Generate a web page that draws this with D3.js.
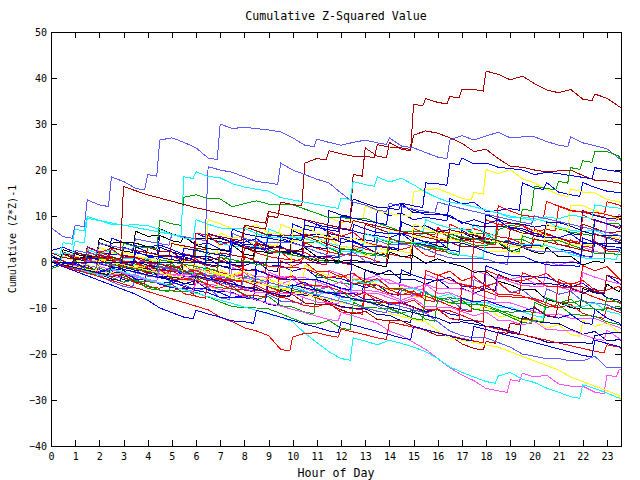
<!DOCTYPE html>
<html><head><meta charset="utf-8">
<script src="https://cdn.jsdelivr.net/npm/d3@7"></script>
<style>body{margin:0;background:#fff}svg{display:block}</style>
</head><body>
<svg id="c" width="640" height="480"></svg>
<script>
const hours = [0,0.5,1,1.5,2,2.5,3,3.5,4,4.5,5,5.5,6,6.5,7,7.5,8,8.5,9,9.5,10,10.5,11,11.5,12,12.5,13,13.5,14,14.5,15,15.5,16,16.5,17,17.5,18,18.5,19,19.5,20,20.5,21,21.5,22,22.5,23,23.5,23.58];
const xTicks = [0,1,2,3,4,5,6,7,8,9,10,11,12,13,14,15,16,17,18,19,20,21,22,23];
const yTicks = [-40,-30,-20,-10,0,10,20,30,40,50];
const titleText = "Cumulative Z-Squared Value";
const xTitle = "Hour of Day";
const yTitle = "Cumulative (Z*Z)-1";

// bundle series
const b01 = [0,-0.3,-1.1,0.3,1.2,0.9,-0.1,-1.2,-1.3,-1.6, -1.1,1.8,1.2,1.1,0.4,-0.6,-1.7,-1.9,3.2,2.1, 2.4,2.1,0.6,1.1,-0.2,3.6,2.8,2.1,1.7,1.2, 7.3,6.2,7.5,5.1,4.8,4.4,9.2,8.1,8.4,8, 6.6,7.1,12.2,11.3,10.8,10.2,13.1,12.4,12.1];
const b02 = [1.5,0.2,-0.9,3.3,2.2,1.7,1.4,0.7,1.1,5.8, 4.6,5.7,3.7,4.1,2.8,7.2,6.1,5.6,5.2,4.7, 8.3,7.1,8.3,6.2,5.6,5.1,4.8,11.3,10.1,10.6, 9.2,9.7,9.3,13.8,12.6,13,10.9,11.2,11.6,17.2, 16.1,17.3,15.2,14.6,17.3,16.2,15.4,15.1,15];
const b03 = [0,1.8,0.8,1.1,0.7,-0.4,-1.2,3.3,2.2,1.5, 1.3,0.6,1,0.7,-0.8,4.8,3.7,3.9,1.8,2.2, 6.8,5.7,6.1,5.7,4.2,4.6,3.3,1.8,2.9,8.7, 7.6,7.9,6.6,7,6.4,5.2,10.3,9.2,8.5,8.2, 7.6,8,7.6,6.2,11.2,10.1,9.5,9.3,9.2];
const b04 = [0,-0.7,0.2,-1.8,-1.7,1.2,0.3,-0.5,-0.8,-1.1, -0.3,-2.3,2.8,1.7,1.9,-0.1,0.2,6.8,5.6,5.9, 5.7,4.2,4.4,3.1,1.8,2.9,1.7,5.3,4.1,4.3, 4.1,2.7,3,1.8,7.3,6.2,6.3,4.2,4.8,4.9, 3.7,8.3,7.2,6.5,6.1,9.2,8.3,8.3,7.6];
const b05 = [0,1.2,0.3,0.5,3.2,2.1,1.4,1.2,0.8,0.9, 4.2,3.1,4.2,2.2,6.3,5.2,5.4,3.2,3.8,8.2, 7.1,8.2,6.2,9.7,8.6,8.9,12.2,11.1,10.5,10.2, 15.2,15.8,15.9,14.9,13.8,15.1,20.1,19.2,20.1,18.1, 17.2,15.8,14.6,15.9,15.2,15,13.6,13.1,12.8];
const b06 = [0,0.4,-1.6,2.3,1.1,0,-0.3,0.3,-1.8,-2, 1.3,0.1,0.7,-1.4,-2.3,-2.7,3.2,2,1.2,0.7, 0.5,4.2,3,2.2,1.6,1.5,1.1,0.1,5.3,4, 4.1,3.4,2.5,8.2,7,7.2,6.4,5.5,5.1,4, 7.2,6,5.2,4.6,10.2,9,8.3,7.6,7.5];
const b07 = [0,-0.2,2.2,1.2,0.4,0.2,0.3,-0.8,0.2,-1.8, -1.7,-2,-2.6,5.2,4.1,3.5,3.2,3.3,7.2,6.1, 5.5,5.2,5.3,4.1,3.4,3.1,8.2,7.2,6.4,6.1, 6.3,9.2,8.1,7.4,7.1,8.2,6.1,10.7,9.6,9.8, 9.4,8.8,7.6,6.9,6.6,6.9,5.7,5.1,5.7];
const b08 = [0,-0.6,-0.9,-0.8,-2.1,-2.2,-2.5,-3.6,-0.8,-1.7, -2.8,-2.8,-2.7,-2.9,-4.1,-1.2,-2.2,-3.2,-3.3,-3.2, -3.4,-4.6,-5.3,-1.8,-2.7,-3.8,-3.8,-3.7,-3.9,-5.1, -5.7,-2.7,-3.7,-4.7,-4.8,-1.8,-2.7,-3.6,-3.8,-3.1, -4.7,0.2,-0.7,0.1,3.2,2.3,9.2,10.4,10.1];
const b09 = [2.5,3.2,2.1,1.4,1.1,5.2,4.2,3.5,3.2,3.7, 2.7,1.6,6.3,5.1,4.4,4.1,5,3.1,2.8,3.5, 1.5,9.2,8.1,7.5,7.2,6.8,6,5.7,5.3,6.2, 4.2,3.7,4.7,2.6,6.8,5.7,4.9,4.6,4.4,3.7, 3.6,3.6,2.8,2.4,1.4,4.2,2.8,2.7,2.4];
const b10 = [1,2.2,0.4,1.3,4.2,3.2,2.4,6.7,5.6,5.8, 4.6,5.6,3.6,2.9,2.6,3.7,1.7,4.2,3.2,3.3, 2.1,3.1,1.1,0.4,0.2,0.3,0.1,-0.7,2.2,1.2, 1.4,-0.3,0.7,-0.3,-0.9,-2.2,-2.1,-4.2,-4.9,-6.1, -5.9,-8.2,-8.8,-9.9,-5.8,-6.7,-4.8,-6.5,-5.8];
const b11 = [0,2.7,1.8,1,5.2,4.1,4.3,4.1,3.3,7.2, 6.1,5.4,5.1,5.2,5.1,4.3,3.1,2.3,2.1,2.3, 2,1.2,0.2,0.3,0.1,-0.6,-1.7,-2.5,-2.7,-2.6, 5.2,4.3,3.5,6.2,5.1,6.2,4.2,4.3,2.2,3.2, 2.1,3.2,1.1,1.3,-0.7,0.2,5.2,4.3,4.2];
const b12 = [0,-0.3,-1.5,-0.5,-2.6,0.3,-0.9,-0.2,-1.6,-2.8, -1.8,-3.5,6.2,5.9,3.7,4.5,3.2,4.3,2.1,2.2, 0.1,0.9,-0.3,6.6,5.6,6.5,4.3,3.6,3.3,2.7, 3.5,1.4,7.2,6.1,5.3,4.9,5,8.3,7.1,8, 5.8,6,3.8,4.8,3.5,4.6,2.4,2.3,2];
const b13 = [-1,-0.4,-0.5,-1.6,-2.7,-1.9,-3.9,-4,-0.8,-1.9, -1.1,-3.1,-3.2,-2.9,-4.9,-4.2,-6.1,0.2,-0.9,-0.8, -2,-1.3,-3.3,-3.3,-3.6,-4.6,-5.6,-4.9,-6.9,-1.7, -2.9,-3.7,-4.1,-3.3,-5.3,-5.4,-0.8,-1.9,-2.8,-3.1, -3.2,-3.4,-4.4,-5.5,-4.6,-6.6,-2.8,-4.6,-4.9];
const b14 = [0,-0.8,-0.9,-1.7,-1.3,-2.2,-3.4,-4.2,-4.3,-4.6, -0.7,-1.8,-2.6,-2.9,-2.8,-3.8,-3.3,-4.3,-5.4,-6.2, -6.3,-6.4,-2.7,-3.8,-4.6,-4.9,-3.9,-5.9,-5.8,-6.1, -6.8,-6.7,-7.9,-7.8,-8,-8.7,-9.9,-10.6,-10.9,-10.8, -10.9,-7.8,-8.7,-8.9,-8.3,-10.3,-10.2,-9.6,-10.1];
const b15 = [0,-0.3,1.2,0.2,-0.6,-0.8,-0.7,-1.8,-0.9,-2.8, -2.7,-3,-3.7,-4.8,-1.8,-2.8,-3.6,-3.8,-3.7,-4.8, -3.8,-5.8,-6.6,-6.8,-6.7,-2.8,-3.7,-2.9,-4.7,-4.8, -5.7,-4.9,-6.8,-6.7,-7.8,-8.6,-8.8,-8.7,-8.9,-9.7, -10.8,-11.5,-11.3,-12.2,-12.3,-12.3,-13.3,-14.2,-14.5];
const b16 = [0,-0.9,-0.3,-2.4,1.3,0,-1.1,-1.4,-1.5,-1.9, -2.9,-4.2,-3.4,-5.5,-1.7,-3,-2.2,-4.4,-3.6,-5.8, -5.9,-0.7,-2,-3,-3.4,-3.5,-3.9,-4.9,-6.2,-5.4, -7.6,-7.7,-7.7,-9,-8.2,-10.4,-9.6,-11.8,-11.7,-13, -12.2,-14.4,-13.6,-15.8,-12.7,-14,-13.2,-15.4,-15.6];
const b17 = [0,1.7,0.8,0,-0.3,-1.1,-1.3,-1.2,-2.3,-3.1, -3.3,1.2,0.2,-0.6,-0.8,-1.6,-1.8,-1.7,-2.8,-3.6, -3.8,-3.7,-3.9,-4.7,-5.8,-6.6,-1.7,-2.8,-1.8,-3.8, -3.7,-4.8,-3.8,-5.8,-5.7,-6.8,-5.8,-2.7,-3.8,-4.6, -4.8,-4.7,-4.9,-5.7,-6.8,-5.8,-7.8,-8.3,-8.8];
const b18 = [0,-1,-1.4,-1.7,-2.9,-4.3,-5.3,-1.8,-3.1,-2.4, -4.7,-4.9,-6.3,-5.6,-7.8,-4.7,-6.1,-5.4,-7.1,-8.5, -8.7,-4.8,-6.1,-5.4,-7.6,-7.9,-8.4,-9.5,-10.8,-5.7, -7.1,-6.4,-8.7,-8,-10.2,-3.8,-5.1,-4.4,-6.7,-6, -8.2,-5.8,-7,-6.4,-8.6,-8.9,-9.3,-10.3,-10.5];
const b19 = [0,-0.9,-1.9,-2.1,-2.2,-2.4,-3.4,-4.5,-5.4,-5.7, -4.8,-6.9,-1.8,-2.9,-3.9,-4.1,-4.2,-4.4,-5.4,-6.5, -6.6,-6.8,-7.8,-8.9,-9.8,-10.1,-4.8,-5.9,-6.9,-7.1, -7.2,-7.4,-8.4,-9.5,-10.5,-5.3,-6.4,-7.4,-7.6,-7.7, -7.9,-8.9,-10,-9.2,-11.2,-11.9,-9.8,-10.9,-11];
const b20 = [0,-0.3,-1.2,2.7,1.8,2.6,0.8,0.7,0.7,-0.3, -1.2,-2.2,-2.2,-1.4,-3.2,-3.3,-4.2,-3.4,-5.2,-5.3, -5.3,-6.3,-7.2,-6.4,-8.2,-3.8,-4.7,-3.9,-5.7,-5.8, -5.8,-6.8,-7.7,-6.9,-8.7,-8.8,-8.8,-9.8,-9.8,-10.8, -11.7,-7.8,-8.7,-9.6,-9.7,-8.9,-10.7,-11.3,-11.8];
const b21 = [-1.5,-0.5,-1.6,-1.9,-2.2,-3.3,-4.4,-3.8,-5.8,-6.1, -2.8,-3.9,-3.3,-5.3,-5.6,-5.8,-7,-8.1,-7.5,-9.5, -9.8,-10.9,-5.8,-6.9,-6.3,-8.3,-8.6,-8.8,-10,-11.1, -10.5,-12.5,-7.8,-8.9,-8.3,-10.3,-10.6,-10.8,-12,-13.1, -8.8,-9.9,-9.3,-11.3,-11.6,-11.8,-13,-13.6,-13.7];
const b22 = [0,-0.7,-0.8,-0.8,-2.2,-2.3,-2.3,-3.7,-3.8,-4.7, -4.3,-5.3,-6.2,-6.7,-7.7,-7.7,-7.3,-8.3,-3.8,-4.7, -5.2,-4.4,-6.2,-6.7,-6.8,-6.8,-8.2,-8.3,-9.2,-8.8, -9.8,-10.7,-10.3,-11.3,-7.8,-8.7,-8.3,-9.3,-10.2,-10.7, -9.9,-11.7,-12.2,-11.4,-13.2,-10.3,-12.2,-13.3,-13.8];
const b23 = [0,1.7,0.8,0.7,1.1,-0.7,0,-1.3,3.2,2.3, 2.2,0.4,1.2,0.3,1.1,-0.7,7.7,6.8,5.8,5.8, 5.7,5.7,4.7,3.8,2.8,2.8,8.2,7.3,6.3,6.3, 6.2,6.2,5.2,4.3,3.3,3.3,3.2,3.2,7.2,6.3, 6.2,6.2,5.2,4.3,8.2,7.3,6.3,6.6,6.5];
const b24 = [0,2.2,1.3,0.3,0.3,1.1,-0.7,-0.8,2.2,1.3, 0.3,0.3,0.2,9.2,8.3,7.3,7.3,8.1,6.3,6.2, 4.4,5.2,4.3,5.1,3.3,3.2,1.4,2.2,7.2,6.3, 5.3,5.3,5.2,5.2,4.2,3.3,2.3,2.3,2.2,6.7, 6.7,5.7,4.8,3.8,3.8,6.2,5.3,5.2,4.8];
const b25 = [0,-0.9,0,3.2,2.1,2.9,0.9,0.9,-0.3,-1.2, -1.5,-0.6,-2.7,-1.8,-3.9,-3.9,-4.2,-5.1,-6.3,0.2, -0.9,0,-2.1,-2.1,-3.3,-2.4,-4.5,-3.6,-5.7,-5.7, -6.9,-1.8,-2.9,-2,-4.1,-3.2,-5.3,-4.4,-6.5,-2.3, -3.4,-2.5,-4.6,-4.6,-0.8,-1.9,-1,-3.6,-3.9];
const b26 = [0,-0.3,2.2,1.2,0.4,0.3,0.2,0.1,-0.7,3.2, 2.2,1.4,1.2,1.3,0.2,-0.6,-0.8,0.2,-1.8,5.2, 4.2,3.4,3.2,11.2,10.2,13.7,12.7,11.9,11.7,12.7, 10.7,10.8,10.6,9.8,8.7,7.9,7.7,7.8,7.6,6.8, 5.7,8.7,8.6,7.8,6.7,5.9,5.7,5.8,5.6];
const b27 = [0,-0.7,-0.8,-0.8,1.7,0.7,-0.1,-0.2,0.6,-1.2, -1.3,-2.2,-1.4,-3.2,-3.3,6.2,5.2,4.4,4.2,4.3, 4.1,3.3,2.2,1.4,1.2,2.2,0.2,4.7,3.7,3.8, 3.6,2.8,1.7,0.9,0.7,0.8,0.6,-0.2,4.2,3.2, 2.4,2.2,2.3,2.1,1.3,6.2,5.2,4.4,5];
const b28 = [0,-0.2,-0.4,-1.2,-2.3,-3.1,-0.8,-1.8,-1.7,-1.9, -2.7,-3.8,-1.2,-2.3,-3.1,-3.3,-2.3,-4.3,-2.2,-3.3, -3.2,-3.4,-4.2,-5.3,-4.3,-6.3,-6.2,-6.4,-7.2,-8.3, -7.3,-4.8,-5.8,-5.7,-5.9,-6.7,-7.8,-3.2,-4.3,-5.1, -5.3,-5.2,-5.4,-6.2,-2.3,-3.3,-4.1,-4.7,-4.8];
const b29 = [0,-0.6,-0.9,1.6,0.8,0.7,4.1,3.3,3.2,9.1, 8.3,14.1,14.6,13.8,13.7,12,12.7,13.3,12.6,12.4, 12.4,11.5,10.6,9.6,9.6,9.5,9.5,8.5,7.6,6.6, 6.6,6.5,6.5,5.5,4.6,3.7,3.6,4.4,2.6,5.7, 4.8,4.7,4.7,3.7,2.8,1.9,1.8,1.7,1.5];
const b30 = [2,4.2,7.1,9.9,9,8.2,8,8.1,7.9,7.1, 6,5.2,9.2,8.2,7.4,7.2,7.3,6.2,5.4,5.2, 5.3,5.1,4.3,3.2,2.4,2.2,6.2,5.2,4.4,4.2, 4.3,4.1,3.3,2.2,1.4,1.2,5.7,4.7,3.9,3.7, 3.8,3.6,2.8,1.7,0.9,0.7,0.8,2.7,2.5];
const b31 = [0,-0.4,-1.5,-2.5,-2.7,-2.8,-3,-4,-5.1,-6.1, -6.3,-5.5,-7.5,-3.8,-4.9,-5.9,-6.1,-6.2,-6.4,-7.4, -8.5,-9.5,-9.7,-8.9,-10.9,-11,-6.8,-7.9,-8.9,-9.1, -8.3,-10.3,-10.4,-10.6,-11.6,-12.7,-1.8,-2.9,-3.9,-4.1, -3.3,-5.3,-5.4,-5.6,-6.6,-7.7,-8.6,-8.7,-8.9];
const b32 = [0,-0.8,-1.6,-1.8,-1.7,-2.8,-1.8,-3.8,-3.7,-4.8, -5.6,-5.8,-5.7,-5.9,-6.7,-7.8,-7.7,-1.8,-2.7,-3.7, -3.7,-3.8,-3.8,-4.8,-5.7,8.2,7.2,6.4,6.2,6.3, 5.2,4.4,4.2,4.3,4.1,3.3,2.2,1.4,1.2,1.3, 0.2,-0.6,-0.8,-0.7,5.2,4.2,3.4,3.2,3];
const b33 = [0,-0.3,-1.2,-0.4,-2.2,-2.3,2.2,1.3,0.3,0.3, 0.2,0.2,-0.8,-1.7,-2.7,-2.7,-1.9,-3.7,-3.8,-4.7, 7.2,6.3,5.3,5.3,5.2,5.2,4.2,3.3,2.3,2.3, 8.2,7.3,6.3,6.3,6.2,6.2,5.2,4.3,3.3,3.3, 3.2,8.2,7.3,12.2,12.2,11.2,10.3,9.3,9.8];
const b34 = [0,-0.9,-1.2,-1.4,-2.6,-3.7,-0.8,-1.9,-1.3,-3.3, -3.6,-4.7,-4.1,-6.1,-6.4,-6.6,-7.8,-8,-9.2,-5.8, -6.9,-7.2,-7.4,-8.6,-9.7,-10,-10.2,-11.4,-11.6,-12.8, -9.8,-10.9,-10.3,-12.3,-12.6,-12.8,-14,-14.2,-15.4,-11.8, -12.9,-13.2,-13.4,-14.6,-15.7,-15.1,-17.1,-16.9,-17.1];
const b35 = [0,-0.4,-1.5,-2.5,-2.7,-2.8,-3,-4,-5.1,-6.1, -6.3,-6.4,-6.6,-7.6,-8.7,-9.7,-9.9,-10,-10.2,-11.2, -12.3,-13.3,-13.5,-12.7,-14.4,-8.8,-9.9,-10,-10.2,-11.2, -12.3,-6.8,-7.9,-8.9,-9.1,-9.2,-9.4,-10.4,-11.5,-12.5, -12.7,-7.8,-8.9,-8.1,-10.1,-10.2,-7.8,-8.9,-9];
const b36 = [0,-0.7,-0.8,-1.7,-2.7,-2.7,-2.8,-2.8,-3.8,-1.8, -2.7,-2.8,-2.8,-3.8,-3.8,-4.8,-5.7,-6.7,-6.7,-6.8, -6.8,-7.8,-8.7,-8.8,-5.8,-6.7,-6.8,-6.8,-7.8,-8.7, -7.9,-9.7,-9.8,-9.8,-10.8,-11.7,-10.9,-12.7,-12.8,-13.7, -12.9,-14.7,-14.8,-14.8,-15.8,-16.7,-14.8,-16.6,-17];
const b37 = [0,-0.9,-0.1,-2.1,2.2,1.1,0.1,-0.1,-0.2,-0.4, -1.4,-2.5,-1.7,-3.7,-3.8,-4.9,1.2,0.1,-0.9,-1.1, -1.2,-1.4,-2.4,-3.5,-2.7,-4.7,-4.8,-5,-6,-7.1, -6.3,-8.3,-2.8,-3.9,-4.9,5.2,4.1,12.2,11.1,10.1, 9.9,13.2,12.1,11.1,10.9,10.8,10.3,9.6,9.3];
const b38 = [0,2.2,1.1,0.3,-0.1,0.8,-1.3,-1.3,-2.5,-1.6, -3.7,-3.7,-4,-4.9,-6.1,-5.2,-7.3,-7.3,-2.8,-3.9, -3,-5.1,-5.1,-5.4,-6.3,-7.5,-6.6,-8.7,-8.7,-9, -9.9,-11.1,-10.2,-12.3,-4.8,-5.9,-5,-7.1,-7.1,-7.4, -8.3,-9.5,-3.8,-4.9,-4,-6.1,-6.1,-5.3,-5.8];
const b39 = [0,-0.3,-0.3,-1.3,-2.2,-1.4,3.2,2.3,1.3,1.3, 1.2,1.2,0.2,6.2,5.3,4.3,4.3,5.1,3.3,3.2, 2.3,1.3,1.3,1.2,5.2,4.3,3.3,3.3,3.2,12.2, 11.3,10.3,10.3,10.2,8.4,9.2,8.3,9.1,7.3,7.2, 6.3,5.3,5.3,6.1,4.3,9.2,8.3,7.3,7.9];
const b40 = [0,-0.8,-1.1,-1.1,-2.3,-3.2,-2.6,-4.4,-0.8,-1.7, -2,-2,-3.2,-4.1,-3.5,-5.3,-5.6,-5.6,-6.8,-7.7, -7.1,-8.9,-9.2,-9.2,-10.4,-11.3,-10.7,-12.5,-12.8,-12.8, -14,-14.9,-16,-16,-17.8,-18.8,-17.3,-15.2,-13.3,-12.2, -9.8,-11.6,-8.8,-5.2,-5.4,-6.4,-2.8,-3.7,-4.1];

// outlying series
const s01 = [0,-0.5,1,0.5,-0.2,-1,1.5,1,0.3,-0.5, -1,0.5,0,-0.8,2,1.5,1,4,3.5,3, 2.5,6,5.5,5,9,19,24.8,23,26,24.5, 34.3,35.5,34.7,36,37.5,37.5,41.5,40.8,39.6,40.4, 38.8,37.4,36.8,37.5,35.4,36.5,35.6,33.8,33.5];
const s02 = [0,1,2.5,2,1.5,1,3,2.5,2,1.5, 4,3.5,3,6,5.5,5,8,7.5,10,13, 12.5,21.5,22.5,24.2,23.5,23,23,25.5,25,24.8, 27.6,28.5,28,27,25.8,24,24.5,22.5,20.8,20.6, 20,19.6,19.8,20,18.8,17.8,17.6,17.2,17];
const s03 = [7.5,5.5,8,13.5,12.4,18.5,17.5,16,19,26.5, 27,26,24.8,22.6,30,29,29.3,29,28.7,28.3, 27,25.4,26.7,26,25.4,26,26.5,25.9,27,25.2, 24.8,23.8,22.8,26.5,27.5,26.5,27.4,28.2,27,27.2, 27.2,26.2,25.4,27.2,25.9,25.3,24.6,22.5,22.2];
const s04 = [0,1,2.5,2,4,3.5,3,5,4.5,4, 6,5.5,5,20.7,20,19.5,18.5,17.5,17.2,21.5, 20,19,18,17.2,15,13,12.4,11.3,12.8,12, 11.5,11,13,12.3,11.6,11,10.4,9.8,9.2,8.6, 10,9.4,8.8,8.2,7.6,7,6.4,5.8,5.6];
const s05 = [0,2,4.5,9.5,9,8.5,8,7.5,7,6.5, 6,18.5,19.6,18.6,18.3,17,16.3,15.8,15.4,14, 13.5,13,12.5,12,13.9,17.5,16.8,18.5,17.4,18.2, 16.8,15.2,13.9,13,12.6,12,11.3,10.6,10,9.5, 9,9.8,9.4,10.2,9.8,12.4,12,11.7,11.7];
const s06 = [0,-0.5,-1,1,0.5,0,-0.5,2,1.5,1, 0.5,3,2.5,2,1.5,4,3.5,3,6,5.5, 5,8,7.5,7,10,9.5,9,8.5,12,12.8, 12.2,17.2,17,21.5,22.6,21.3,21.5,20.6,20.3,20, 19,19.5,19.2,18.8,18.4,20.5,20,19.6,19.5];
const s07 = [0,-0.5,-1,-1.5,0,-0.5,-1,-1.5,-2,0.5, 0,-0.5,-1,-1.5,1,0.5,0,-0.5,2.5,2, 1.5,1,0.5,0,3,2.5,2,1.5,5,4.5, 4,3.5,3,6,5.5,5,4.5,7,8,11.5, 16.5,16,17.5,20.5,22,24,24,23,22];
const s08 = [2,1,2,1.5,1,3,16.4,15.5,14.6,13.9, 13.2,12.5,11.8,11.2,10.6,10,9.4,8.8,11,10.4, 9.8,9.2,8.6,8,7.4,9,8.4,7.8,7.2,6.6, 6,5.4,4.8,7,6.4,5.8,5.2,4.6,4,3.4, 5,4.4,3.8,3.2,2.6,6,5.4,4.8,4.6];
const s09 = [0,-0.8,-1.5,-2.2,-1,-1.7,-2.4,-3.2,-4,-4.6, -5.3,-6,-4.5,-5.2,-6,-6.8,-7.5,-8.2,-9,-9.6, -10.3,-11,-11.8,-12.5,-11,-11.7,-12.5,-13.3,-15,-16, -17.5,-19,-21,-23,-24.6,-25.8,-27.5,-28,-25.6,-24.2, -25,-24.6,-26.5,-27,-27,-28.3,-24.6,-23.5,-23.4];
const s10 = [0,-0.7,-1.4,-2.1,-2.8,-1.5,-2.2,-3,-3.8,-4.5, -5.3,-6,-6.8,-7.5,-8.3,-9,-9.8,-10.5,-11.3,-12, -13,-15.5,-17.5,-19.5,-21,-16.5,-17.2,-18,-17,-17.7, -18.5,-19.5,-21,-22.8,-24,-25,-26,-24.8,-24,-25.5, -26.2,-27.4,-28.3,-29.3,-26.7,-27.5,-28.5,-29.6,-30];
const s11 = [0,-0.5,-1,-1.6,0.5,0,-0.6,-1.2,-1.8,-2.4, -3,-1,-1.6,-2.2,-2.8,-3.4,-4,-4.6,-5.2,-5.8, -6.4,-7,-7.6,-8.2,-8.8,-9.4,-10,-10.6,-11.2,-11.8, -12.5,-13,-15,-16.5,-17,-17.5,-18,-18.5,-19.5,-20.5, -21.5,-22.5,-23.5,-25,-26,-27,-28,-29,-30];
const s12 = [0,-0.7,-1.4,0.5,-0.2,-0.9,-1.6,-2.3,-3,-1, -1.7,-2.4,-3.1,-3.8,-4.5,-5.2,-3,-3.7,-4.4,-5.1, -5.8,-6.5,-7.2,-7.9,-8.6,-9.3,-10,-10.7,-9,-9.7, -10.4,-11.1,-13,-15,-16,-16.5,-16.5,-17.5,-18.5,-20, -20.5,-21,-21,-21.5,-21.5,-20.5,-23,-23,-23];
const s13 = [0,-0.6,-1.2,-1.8,-2.4,-1,-1.6,-2.2,-2.8,-3.4, -4,-4.6,-3,-3.6,-4.2,-4.8,-5.4,-6,-6.6,-7.2, -5,-5.6,-6.2,-6.8,-7.4,-8,-8.6,-9.2,-9.8,-10.4, -11,-11.6,-12.2,-13.3,-13,-13.5,-14,-14.3,-15,-15.8, -16.5,-17.4,-17.6,-17.5,-17.5,-16,-15.5,-15.3,-15.2];
const s14 = [0,-0.8,-1.6,-2.4,-3.2,-4,-4.8,-5.6,-6.4,-7.2, -8,-8.8,-9.6,-10.4,-12,-13,-14.3,-15,-16,-19, -16.3,-15.5,-15.4,-16,-14.6,-15.2,-15.8,-16.5,-13,-13.6, -14.2,-14.8,-15.4,-16,-16.6,-17.2,-14,-14.6,-15.2,-15.8, -16.4,-17,-17.6,-18.2,-18.8,-19.4,-18,-18.5,-18.8];
const s15 = [0,-1,-2,-3,-4,-5,-6,-7,-8.3,-10, -11,-12,-10.5,-11.3,-12,-12.8,-13,-10.5,-11.2,-12, -12.7,-13.5,-14.2,-15,-13,-13.7,-14.4,-15.1,-15.8,-16.5, -14,-14.7,-15.4,-16.1,-16.8,-14,-14.7,-15.4,-16.1,-16.8, -17.5,-18.2,-18.9,-19.6,-20.3,-17,-17.7,-18.4,-18.6];
const s16 = [0,0,0,0,0,0,0,0,0,0, 0,0,0,0,0,0,0,0,0,0, 0,0,0,0,0,0,0,0,0,0, 0,0,0,0,0,0,0,0,0,0, 0,0,0,0,4,4,4,4,4];

const seriesValues = [b01,b02,b03,b04,b05,b06,b07,b08,b09,b10,b11,b12,b13,b14,b15,b16,b17,b18,b19,b20,
  b21,b22,b23,b24,b25,b26,b27,b28,b29,b30,b31,b32,b33,b34,b35,b36,b37,b38,b39,b40,
  s01,s02,s03,s04,s05,s06,s07,s08,s09,s10,s11,s12,s13,s14,s15,s16];
const seriesColorNames = ["red","blue","navy","green","yellow","red","cyan","magenta","blue","black",
  "black","red","blue","green","magenta","yellow","navy","ltblue","red","cyan",
  "green","blue","dkred","yellow","red","navy","ltblue","magenta","green","cyan",
  "red","blue","yellow","navy","green","magenta","red","red","blue","dkred",
  "dkred","dkred","ltblue","ltblue","cyan","blue","green","dkred","magenta","cyan",
  "yellow","ltblue","navy","red","blue","navy"];

const palette = {red:"#ff0000", dkred:"#a80000", blue:"#0000ff", navy:"#0000a8", ltblue:"#5a5aff",
  cyan:"#00ffff", yellow:"#ffff00", magenta:"#ff50ff", green:"#00a000", black:"#000000"};

const W = 640, H = 480;
const m = {left:51, right:19, top:32, bottom:34};
const x = d3.scaleLinear().domain([0, 23.58]).range([m.left, W - m.right]);
const y = d3.scaleLinear().domain([-40, 50]).range([H - m.bottom, m.top]);
const font = '"DejaVu Sans Mono", "Liberation Mono", monospace';

// line style: values drift down steadily and rise abruptly near the end of an interval
function Saw(context) { this._context = context; }
Saw.prototype = {
  areaStart() {}, areaEnd() {},
  lineStart() { this._p = 0; },
  lineEnd() {},
  point(px, py) {
    px = +px; py = +py;
    if (this._p === 0) { this._p = 1; this._context.moveTo(px, py); }
    else {
      if (py < this._y - 4.6) {
        const xm = px - Math.min(3, (px - this._x) * 0.3);
        this._context.lineTo(xm, this._y + (xm - this._x) * 0.17);
      }
      this._context.lineTo(px, py);
    }
    this._x = px; this._y = py;
  }
};
const curveSaw = ctx => new Saw(ctx);

const svg = d3.select("#c");
svg.append("rect").attr("width", W).attr("height", H).attr("fill", "#fff");
svg.append("defs").append("clipPath").attr("id", "clip")
  .append("rect").attr("x", m.left).attr("y", m.top)
  .attr("width", W - m.left - m.right).attr("height", H - m.top - m.bottom);

const line = d3.line().x((d, i) => x(hours[i])).y(d => y(d)).curve(curveSaw);
const plot = svg.append("g").attr("clip-path", "url(#clip)");
plot.selectAll("path").data(seriesValues).join("path")
  .attr("d", d => line(d))
  .attr("fill", "none")
  .attr("stroke", (d, i) => palette[seriesColorNames[i]])
  .attr("stroke-width", 1)
  .attr("shape-rendering", "crispEdges");

function styleAxis(g) {
  g.select(".domain").remove();
  g.selectAll(".tick line").attr("stroke", "#000").attr("shape-rendering", "crispEdges");
  g.selectAll(".tick text").attr("font-family", font).attr("font-size", 10).attr("fill", "#000");
}
svg.append("g").attr("transform", `translate(0,${H - m.bottom})`)
  .call(d3.axisBottom(x).tickValues(xTicks).tickSize(-6).tickPadding(7).tickFormat(d3.format("d")))
  .call(styleAxis);
svg.append("g").attr("transform", `translate(0,${m.top})`)
  .call(d3.axisTop(x).tickValues(xTicks).tickSize(-6).tickFormat(""))
  .call(styleAxis);
svg.append("g").attr("transform", `translate(${m.left},0)`)
  .call(d3.axisLeft(y).tickValues(yTicks).tickSize(-6).tickPadding(4).tickFormat(d3.format("d")))
  .call(styleAxis);
svg.append("g").attr("transform", `translate(${W - m.right},0)`)
  .call(d3.axisRight(y).tickValues(yTicks).tickSize(-6).tickFormat(""))
  .call(styleAxis);

svg.append("rect").attr("x", m.left + 0.5).attr("y", m.top + 0.5)
  .attr("width", W - m.left - m.right).attr("height", H - m.top - m.bottom)
  .attr("fill", "none").attr("stroke", "#000").attr("shape-rendering", "crispEdges");

svg.append("text").attr("x", (m.left + W - m.right) / 2).attr("y", 20)
  .attr("text-anchor", "middle").attr("font-family", font).attr("font-size", 11.6)
  .text(titleText);
svg.append("text").attr("x", (m.left + W - m.right) / 2).attr("y", 477)
  .attr("text-anchor", "middle").attr("font-family", font).attr("font-size", 11.6)
  .text(xTitle);
svg.append("text").attr("transform", `translate(16,${(m.top + H - m.bottom) / 2}) rotate(-90)`)
  .attr("text-anchor", "middle").attr("font-family", font).attr("font-size", 10)
  .text(yTitle);
</script>
</body></html>
